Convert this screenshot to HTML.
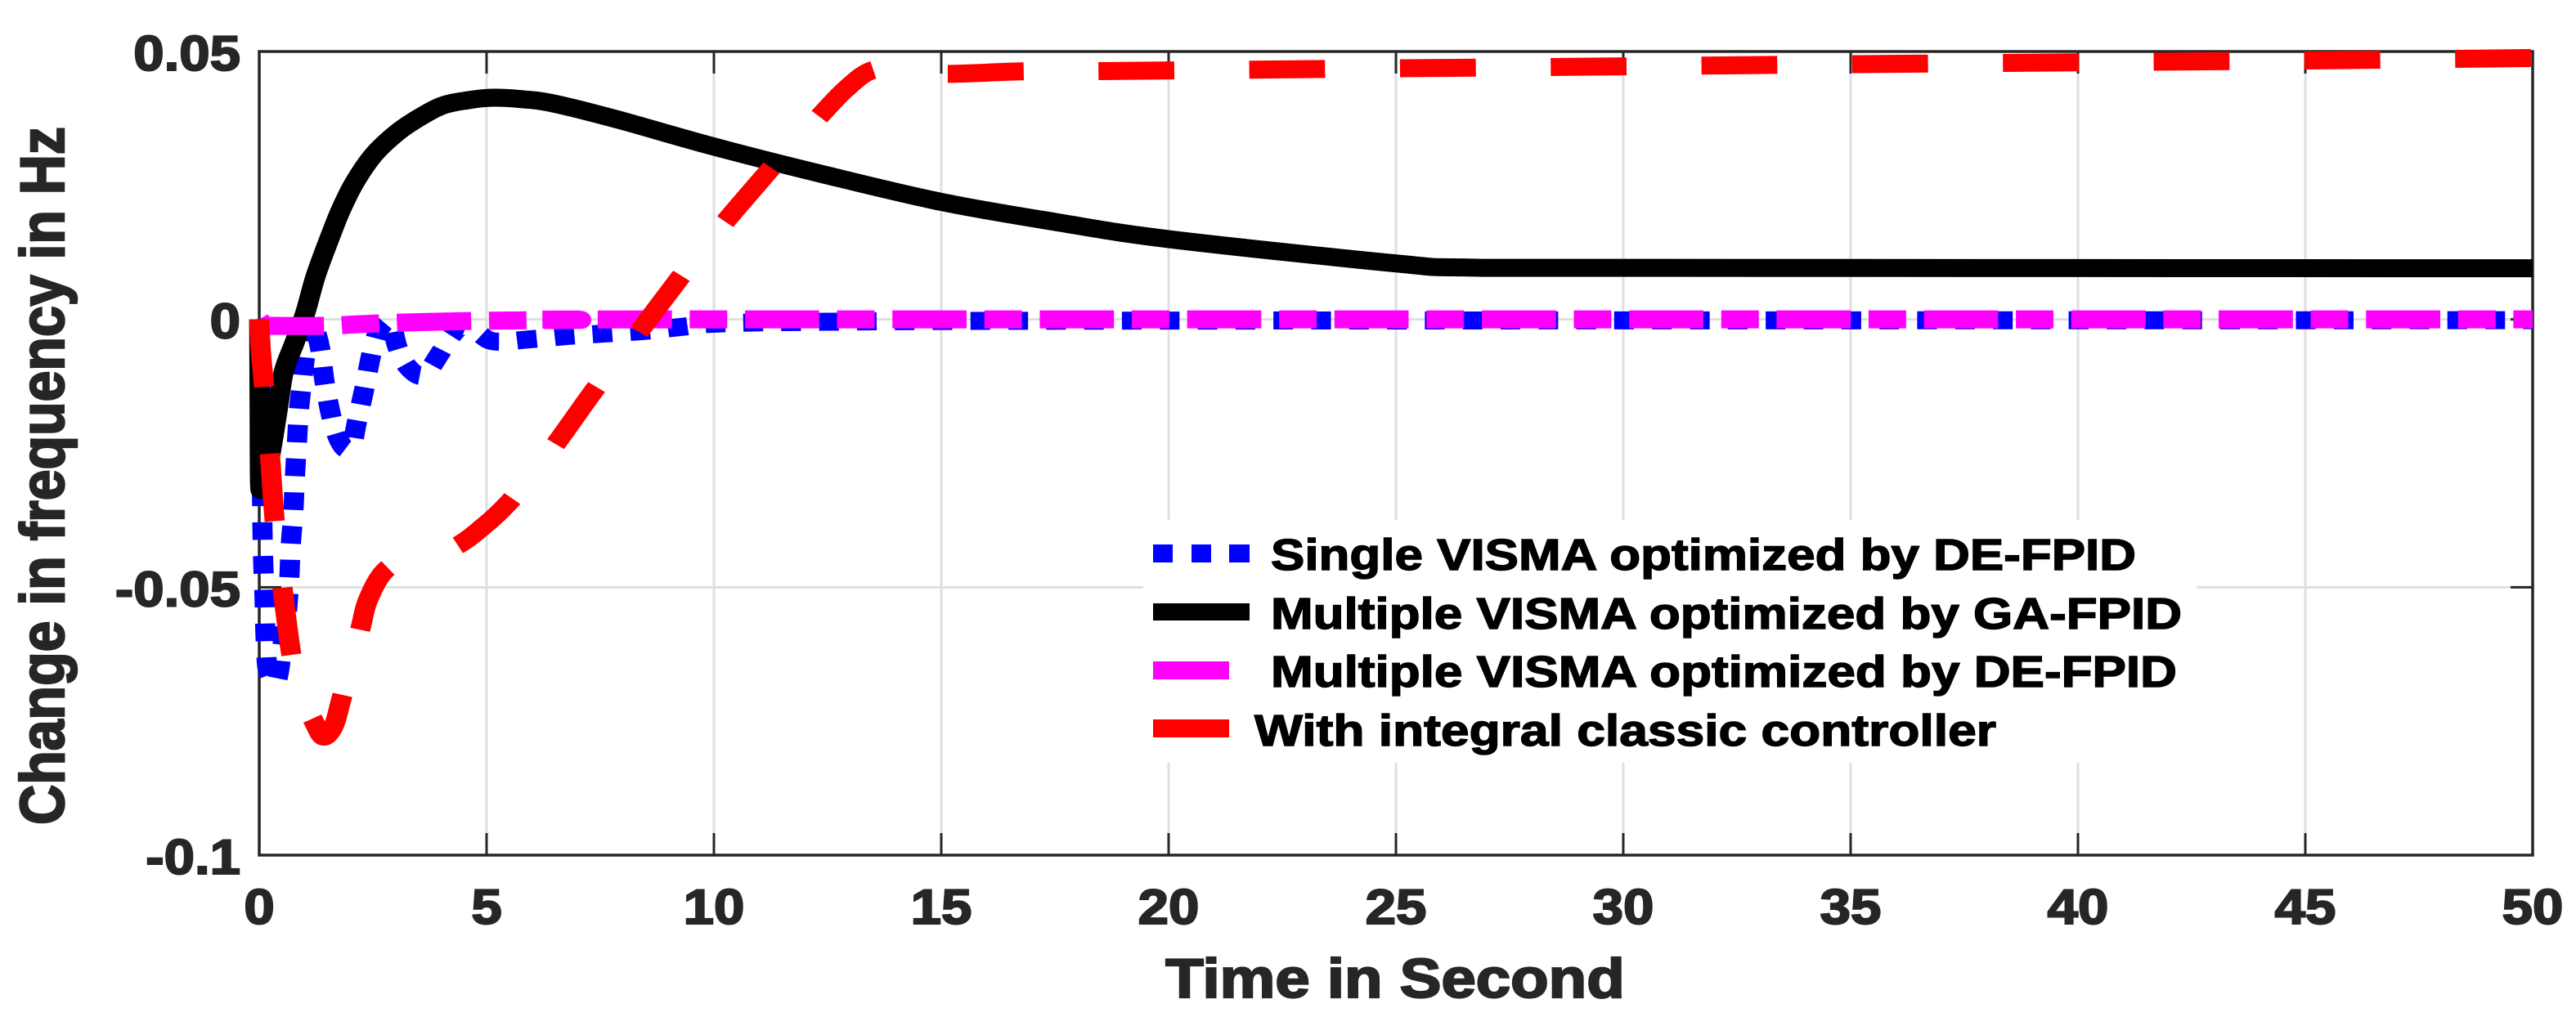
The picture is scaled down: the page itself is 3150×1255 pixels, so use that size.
<!DOCTYPE html>
<html>
<head>
<meta charset="utf-8">
<title>Change in frequency chart</title>
<style>
html,body{margin:0;padding:0;background:#fff;}
svg{display:block;}
text{font-family:"Liberation Sans",Arial,sans-serif;font-weight:bold;}
</style>
</head>
<body>
<svg id="chart" xmlns="http://www.w3.org/2000/svg" width="3150" height="1255" viewBox="0 0 3150 1255">
<rect x="0" y="0" width="3150" height="1255" fill="#ffffff"/>
<g id="grid"></g>
<g id="axes"></g>
<g id="series" transform="scale(1.12 1)"></g>
<g id="ticklabels"></g>
<text transform="translate(1706 1220) scale(1.12 1)" text-anchor="middle" font-size="68" fill="#262626" stroke="#262626" stroke-width="2.2">Time in Second</text>
<text transform="translate(78 582) scale(1.12 1) rotate(-90)" text-anchor="middle" font-size="68" fill="#262626" stroke="#262626" stroke-width="2.2">Change in frequency in Hz</text>
<g>
<rect x="1398" y="636" width="1288" height="297" fill="#ffffff"/>
<g>
<rect x="1410" y="666" width="24" height="22" fill="#0000ff"/>
<rect x="1457" y="666" width="24" height="22" fill="#0000ff"/>
<rect x="1503" y="666" width="25" height="22" fill="#0000ff"/>
<text x="1554" y="697" font-size="54" fill="#000" stroke="#000" stroke-width="1.4" textLength="1058" lengthAdjust="spacingAndGlyphs">Single VISMA optimized by DE-FPID</text>
</g>
<g>
<rect x="1410" y="738" width="118" height="21" fill="#000000"/>
<text x="1554" y="769" font-size="54" fill="#000" stroke="#000" stroke-width="1.4" textLength="1114" lengthAdjust="spacingAndGlyphs">Multiple VISMA optimized by GA-FPID</text>
</g>
<g>
<rect x="1410" y="809" width="93" height="22" fill="#ff00ff"/>
<text x="1554" y="840" font-size="54" fill="#000" stroke="#000" stroke-width="1.4" textLength="1108" lengthAdjust="spacingAndGlyphs">Multiple VISMA optimized by DE-FPID</text>
</g>
<g>
<rect x="1410" y="880" width="93" height="22" fill="#ff0000"/>
<text x="1534" y="912" font-size="54" fill="#000" stroke="#000" stroke-width="1.4" textLength="907" lengthAdjust="spacingAndGlyphs">With integral classic controller</text>
</g>
</g>
</svg>
<script>
var xTicks = [0, 5, 10, 15, 20, 25, 30, 35, 40, 45, 50];
var yTicks = [0.05, 0, -0.05, -0.1];
var yTickLabels = ["0.05", "0", "-0.05", "-0.1"];

var blueT = [0, .036, .072, .09, .117, .135, .174, .252, .354, .432, .504, .603, .66, .692, .75, .782, .827, .872, .953, 1.043, 1.151, 1.241, 1.344, 1.439, 1.583, 1.727, 1.888, 2.032, 2.153, 2.315, 2.464, 2.608, 2.806, 2.932, 3.04, 3.237, 3.525, 3.741, 3.993, 4.245, 4.496, 4.82, 5.18, 6.025, 6.853, 7.68, 8.49, 9.32, 10.13, 12.28, 19.5, 50];
var blueV = [0, -.01664, -.03954, -.0458, -.05206, -.05832, -.06458, -.06672, -.06794, -.0658, -.06122, -.05496, -.04855, -.04229, -.03603, -.02977, -.02336, -.0171, -.01084, -.00458, -.00046, -.00214, -.00565, -.01176, -.01802, -.02198, -.02412, -.02366, -.01893, -.01282, -.00656, -.00244, -.00031, -.00168, -.00519, -.00855, -.01053, -.00931, -.00611, -.0029, -.00122, -.0026, -.00412, -.00366, -.00305, -.0026, -.00214, -.00137, -.00076, -.00046, -.00023, -.00015];

var blackT = [0, .009, .018, .054, .126, .252, .396, .54, .773, 1.013, 1.241, 1.559, 1.799, 2.104, 2.513, 2.98, 3.412, 4.011, 4.604, 5.144, 5.81, 6.466, 7.842, 10.018, 12.428, 15.009, 17.5, 20.018, 25.018, 26.457, 30.27, 50];
var blackV = [0, -.01664, -.03038, -.03145, -.03008, -.02489, -.0174, -.00977, -.00443, .00122, .00809, .01542, .0205, .02565, .03069, .0345, .0371, .03985, .04092, .04137, .04107, .04031, .0374, .03221, .02702, .02191, .0182, .01496, .01043, .00969, .00962, .00954];

var magentaT = [0, .1, .23, 1.44, 2.2, 3.1, 4.7, 5.5, 7, 10, 50];
var magentaV = [0, -.0011, -.0012, -.0012, -.0009, -.0006, -.0003, -.0002, -.0001, 0, 0];

var redT = [0, .036, .108, .234, .342, .516, .714, .953, 1.187, 1.403, 1.637, 1.817, 2.212, 2.392, 2.788, 3.471, 4.281, 4.91, 5.504, 5.989, 6.511, 7.284, 7.788, 8.302, 9.245, 9.73, 10.21, 11.22, 11.745, 12.284, 12.89, 13.453, 14.08, 15.07, 16.76, 18.4, 21.71, 25.04, 28.36, 31.67, 35.0, 38.31, 41.64, 44.96, 48.29, 50];
var redV = [0, -.00595, -.01267, -.02519, -.03771, -.05038, -.0629, -.07084, -.07481, -.07786, -.07588, -.07053, -.05817, -.05237, -.04672, -.04412, -.04252, -.03878, -.03405, -.02885, -.02336, -.0142, -.00855, -.0029, .00768, .01282, .01786, .02783, .03282, .03756, .0429, .04641, .04656, .04583, .04629, .04634, .0466, .04687, .0471, .04736, .04763, .04786, .04809, .04832, .04863, .04878];

var NS = "http://www.w3.org/2000/svg";
var LEFT = 317, RIGHT = 3097, TOP = 63, BOTTOM = 1046;
var XSTRETCH = 1.12;

function xPos(t) { return LEFT + (t / 50) * (RIGHT - LEFT); }
function yPos(v) { return TOP + ((0.05 - v) / 0.15) * (BOTTOM - TOP); }

function line(parent, x1, y1, x2, y2, color, width) {
  var el = document.createElementNS(NS, "line");
  el.setAttribute("x1", x1);
  el.setAttribute("y1", y1);
  el.setAttribute("x2", x2);
  el.setAttribute("y2", y2);
  el.setAttribute("stroke", color);
  el.setAttribute("stroke-width", width);
  parent.appendChild(el);
  return el;
}

var gridG = document.getElementById("grid");
var axesG = document.getElementById("axes");
var labelG = document.getElementById("ticklabels");

xTicks.forEach(function (t) {
  var x = xPos(t);
  if (t > 0 && t < 50) {
    var g = line(gridG, x, TOP, x, BOTTOM, "#dfdfdf", 3);
    
    
    var a = line(axesG, x, TOP, x, TOP + 27, "#262626", 3);
    
    
    var b = line(axesG, x, BOTTOM, x, BOTTOM - 27, "#262626", 3);
    
    
  }
  var lab = document.createElementNS(NS, "text");
  lab.setAttribute("transform", "translate(" + x + " 1130) scale(1.12 1)");
  lab.setAttribute("text-anchor", "middle");
  lab.setAttribute("font-size", "60");
  lab.setAttribute("fill", "#262626");
  lab.setAttribute("stroke", "#262626");
  lab.setAttribute("stroke-width", "2");
  lab.textContent = String(t);
  
  
  labelG.appendChild(lab);
});

yTicks.forEach(function (v, i) {
  var y = yPos(v);
  if (v < 0.05 && v > -0.1) {
    var g = line(gridG, LEFT, y, RIGHT, y, "#dfdfdf", 3);
    
    
    var a = line(axesG, LEFT, y, LEFT + 27, y, "#262626", 3);
    
    
    var b = line(axesG, RIGHT, y, RIGHT - 27, y, "#262626", 3);
    
    
  }
  var lab = document.createElementNS(NS, "text");
  lab.setAttribute("transform", "translate(294 " + (y + 23) + ") scale(1.12 1)");
  lab.setAttribute("text-anchor", "end");
  lab.setAttribute("font-size", "60");
  lab.setAttribute("fill", "#262626");
  lab.setAttribute("stroke", "#262626");
  lab.setAttribute("stroke-width", "2");
  lab.textContent = yTickLabels[i];
  
  
  labelG.appendChild(lab);
});

var box = document.createElementNS(NS, "rect");
box.setAttribute("x", LEFT);
box.setAttribute("y", TOP);
box.setAttribute("width", RIGHT - LEFT);
box.setAttribute("height", BOTTOM - TOP);
box.setAttribute("fill", "none");
box.setAttribute("stroke", "#262626");
box.setAttribute("stroke-width", 3.5);


axesG.appendChild(box);

function curve(ts, vs, color, pattern, offset, endPhase) {
  var px = [];
  var py = [];
  for (var i = 0; i < ts.length; i++) {
    px.push(xPos(ts[i]) / XSTRETCH);
    py.push(yPos(vs[i]));
  }
  var d = "M" + px[0].toFixed(2) + " " + py[0].toFixed(2);
  for (var k = 0; k < px.length - 1; k++) {
    var a = Math.max(k - 1, 0);
    var b = Math.min(k + 2, px.length - 1);
    var c1x = px[k] + (px[k + 1] - px[a]) / 6;
    var c1y = py[k] + (py[k + 1] - py[a]) / 6;
    var c2x = px[k + 1] - (px[b] - px[k]) / 6;
    var c2y = py[k + 1] - (py[b] - py[k]) / 6;
    d += "C" + c1x.toFixed(2) + " " + c1y.toFixed(2) + " " + c2x.toFixed(2) + " " + c2y.toFixed(2) + " " + px[k + 1].toFixed(2) + " " + py[k + 1].toFixed(2);
  }
  var p = document.createElementNS(NS, "path");
  p.setAttribute("d", d);
  p.setAttribute("fill", "none");
  p.setAttribute("stroke", color);
  p.setAttribute("stroke-width", 22);
  p.setAttribute("stroke-linejoin", "round");
  document.getElementById("series").appendChild(p);
  if (pattern) {
    var base = pattern.reduce(function (s, n) { return s + n; }, 0);
    var span = p.getTotalLength() + offset - endPhase;
    var scale = (span / Math.max(1, Math.round(span / base))) / base;
    p.setAttribute("stroke-dasharray", pattern.map(function (n) { return (n * scale).toFixed(3); }).join(" "));
    if (offset) p.setAttribute("stroke-dashoffset", offset);
  }
  return p;
}

var s1 = curve(blueT, blueV, "#0000ff", [21.5, 19.7], 0, 10.8);


var s2 = curve(blackT, blackV, "#000000", null, 0, 0);


var s3 = curve(magentaT, magentaV, "#ff00ff", [83, 19.9, 42, 19.9], 5, 21.4);


var s4 = curve(redT, redV, "#ff0000", [83, 82], 0, 84.8);


</script>
</body>
</html>
